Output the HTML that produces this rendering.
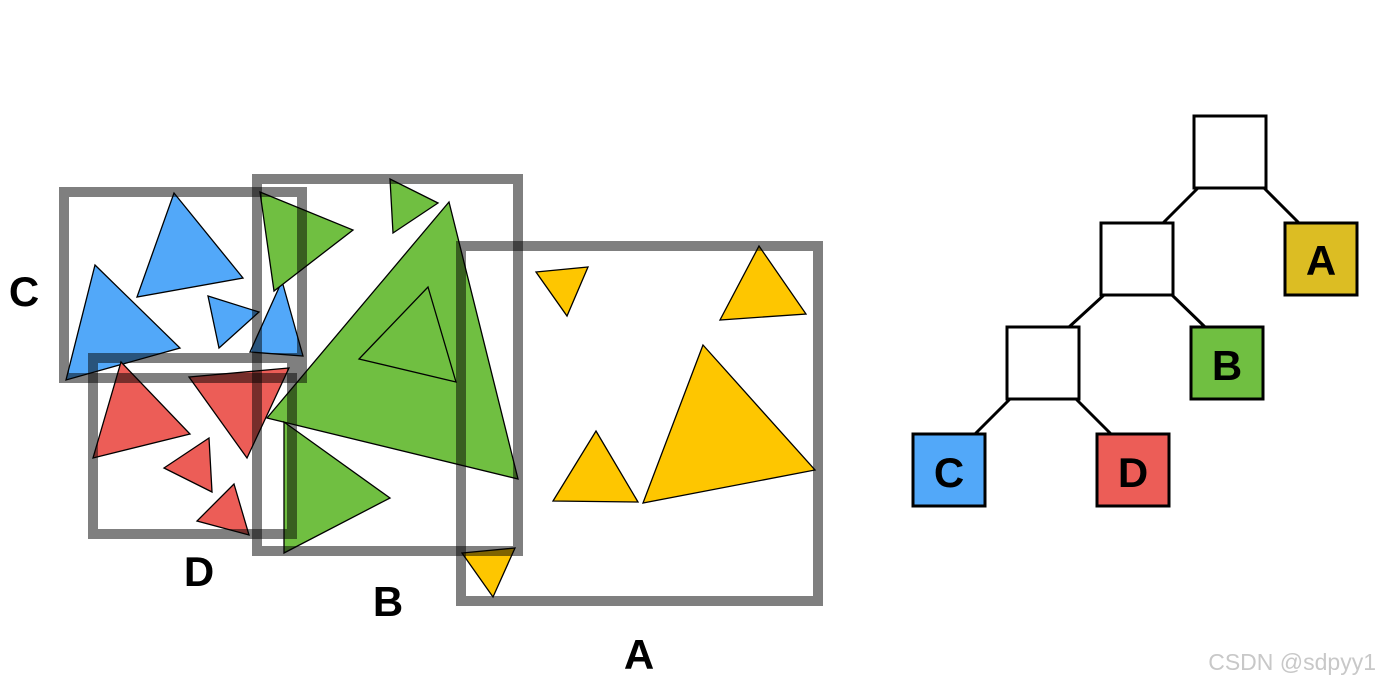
<!DOCTYPE html>
<html><head><meta charset="utf-8"><style>html,body{margin:0;padding:0;background:#fff}svg{display:block}</style></head>
<body>
<svg width="1380" height="686" viewBox="0 0 1380 686" xmlns="http://www.w3.org/2000/svg" font-family="Liberation Sans, sans-serif" font-weight="bold">
<g stroke="#000" stroke-width="1.3" stroke-linejoin="miter">
<g fill="#52a8f9">
<polygon points="174,193 243,278 137,297"/>
<polygon points="95,265 180,348 66,380"/>
<polygon points="208,296 259,312 219,348"/>
<polygon points="282,281 303,356 250,352"/>
</g>
<g fill="#70bf41">
<polygon points="260,192 353,230 274,291"/>
<polygon points="390,179 438,203 393,233"/>
<polygon points="449,202 518,479 267,418"/>
<polygon points="428,287 456,382 359,359"/>
<polygon points="284,422 390,498 284,553"/>
</g>
<g fill="#ec5d57">
<polygon points="121,362 190,434 93,458"/>
<polygon points="189,377 289,368 247,458"/>
<polygon points="209,438 212,492 164,468"/>
<polygon points="234,484 249,535 197,521"/>
</g>
<g fill="#fec600">
<polygon points="536,272 588,267 567,316"/>
<polygon points="759,246 806,314 720,320"/>
<polygon points="703,345 815,470 643,503"/>
<polygon points="596,431 638,502 553,501"/>
<polygon points="462,553 515,548 493,597"/>
</g>
</g>
<g fill="none" stroke="rgba(0,0,0,0.5)" stroke-width="10">
<rect x="64" y="192" width="238" height="186"/>
<rect x="93" y="358" width="199" height="176"/>
<rect x="257" y="179" width="261" height="372"/>
<rect x="461" y="246" width="357" height="355"/>
</g>
<g font-size="42" fill="#000" text-anchor="middle">
<text x="24" y="306">C</text>
<text x="199" y="586">D</text>
<text x="388" y="616">B</text>
<text x="639" y="669">A</text>
</g>
<g stroke="#000" stroke-width="3">
<line x1="1198" y1="188" x2="1163" y2="223"/>
<line x1="1264" y1="188" x2="1299" y2="223"/>
<line x1="1104" y1="295" x2="1069" y2="327"/>
<line x1="1172" y1="295" x2="1205" y2="327"/>
<line x1="1010" y1="399" x2="975" y2="434"/>
<line x1="1076" y1="399" x2="1111" y2="434"/>
<rect x="1194" y="116" width="72" height="72" fill="#fff"/>
<rect x="1101" y="223" width="72" height="72" fill="#fff"/>
<rect x="1007" y="327" width="72" height="72" fill="#fff"/>
<rect x="1285" y="223" width="72" height="72" fill="#dcbd23"/>
<rect x="1191" y="327" width="72" height="72" fill="#70bf41"/>
<rect x="913" y="434" width="72" height="72" fill="#52a8f9"/>
<rect x="1097" y="434" width="72" height="72" fill="#ec5d57"/>
</g>
<g font-size="42" fill="#000" text-anchor="middle">
<text x="1321" y="275">A</text>
<text x="1227" y="380">B</text>
<text x="949" y="487">C</text>
<text x="1133" y="487">D</text>
</g>
<text x="1376" y="670" text-anchor="end" font-size="23" font-weight="normal" fill="#c8c8c8">CSDN @sdpyy1</text>
</svg>
</body></html>
